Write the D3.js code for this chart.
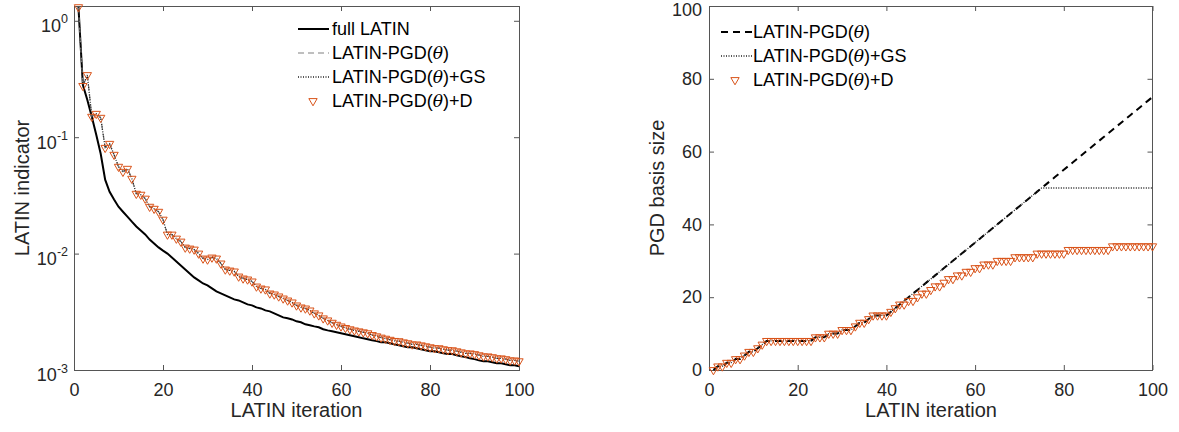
<!DOCTYPE html>
<html><head><meta charset="utf-8">
<script src="https://cdn.jsdelivr.net/npm/d3@7"></script>
<style>
body{margin:0;background:#fff;}
svg{display:block;font-family:"Liberation Sans",Arial,Helvetica,sans-serif;}
</style></head>
<body><svg id="c" width="1179" height="432"></svg>
<script>
// ---------- data ----------
const iterations = d3.range(1, 101);
const fullLatin = [1.31,0.281,0.209,0.150,0.105,0.072,0.0432,0.0340,0.0291,0.0253,
0.0229,0.0208,0.0188,0.0171,0.0158,0.0146,0.0132,0.0122,0.0113,0.0106,
0.0100,0.00926,0.00855,0.00791,0.00731,0.00675,0.00624,0.00588,0.00554,0.00533,
0.00502,0.00473,0.00455,0.00437,0.00420,0.00404,0.00396,0.00381,0.00366,0.00359,
0.00345,0.00338,0.00325,0.00319,0.00307,0.00295,0.00283,0.00278,0.00272,0.00262,
0.00257,0.00247,0.00242,0.00237,0.00233,0.00224,0.00219,0.00215,0.00211,0.00207,
0.00203,0.00199,0.00195,0.00191,0.00187,0.00184,0.00180,0.00177,0.00173,0.00173,
0.00170,0.00166,0.00163,0.00160,0.00157,0.00157,0.00154,0.00151,0.00148,0.00145,
0.00145,0.00142,0.00139,0.00137,0.00137,0.00134,0.00131,0.00129,0.00126,0.00124,
0.00121,0.00119,0.00119,0.001166,0.001143,0.001143,0.001121,0.001099,0.001099,0.001078];
const pgdIndicator = [1.31,0.276,0.342,0.150,0.159,0.147,0.0811,0.0878,0.0707,0.0558,
0.0505,0.0536,0.0440,0.0327,0.0321,0.0297,0.0253,0.0243,0.0229,0.0196,
0.01458,0.01458,0.01347,0.01270,0.01128,0.01106,0.01084,0.01002,0.00908,0.00890,
0.00926,0.00908,0.00823,0.00731,0.00716,0.00703,0.00636,0.00612,0.00600,0.00577,
0.00522,0.00502,0.00493,0.00455,0.00446,0.00429,0.00412,0.00396,0.00381,0.00359,
0.00345,0.00338,0.00325,0.00307,0.00295,0.00278,0.00267,0.00255,0.00245,0.00237,
0.00230,0.00224,0.00219,0.00215,0.00211,0.00207,0.00200,0.00195,0.00190,0.00186,
0.00182,0.00178,0.00177,0.00173,0.00170,0.00166,0.00166,0.00163,0.00160,0.00157,
0.00154,0.00154,0.00151,0.00148,0.00148,0.00145,0.00142,0.00139,0.00139,0.00137,
0.00134,0.00131,0.00131,0.00129,0.00126,0.00126,0.00124,0.00121,0.00121,0.00119];
const gsIndicator = [1.31,0.276,0.342,0.150,0.159,0.147,0.0811,0.0878,0.0707,0.0558,
0.0505,0.0536,0.0440,0.0327,0.0321,0.0297,0.0253,0.0243,0.0229,0.0196,
0.01458,0.01458,0.01347,0.01270,0.01128,0.01106,0.01084,0.01002,0.00908,0.00890,
0.00926,0.00908,0.00823,0.00731,0.00716,0.00703,0.00636,0.00612,0.00600,0.00577,
0.00522,0.00502,0.00493,0.00455,0.00446,0.00429,0.00412,0.00396,0.00381,0.00359,
0.00345,0.00338,0.00325,0.00307,0.00295,0.00278,0.00267,0.00255,0.00245,0.00237,
0.00230,0.00224,0.00219,0.00215,0.00211,0.00207,0.00200,0.00195,0.00190,0.00186,
0.00182,0.00178,0.00177,0.00173,0.00170,0.00166,0.00166,0.00163,0.00160,0.00157,
0.00154,0.00154,0.00151,0.00148,0.00148,0.00145,0.00142,0.00139,0.00139,0.00137,
0.00134,0.00131,0.00131,0.00129,0.00126,0.00126,0.00124,0.00121,0.00121,0.00119];
const dIndicator = [1.31,0.276,0.342,0.150,0.159,0.147,0.0811,0.0878,0.0707,0.0558,
0.0505,0.0536,0.0440,0.0327,0.0321,0.0297,0.0253,0.0243,0.0229,0.0196,
0.01458,0.01458,0.01347,0.01270,0.01128,0.01106,0.01084,0.01002,0.00908,0.00890,
0.00926,0.00908,0.00823,0.00731,0.00716,0.00703,0.00636,0.00612,0.00600,0.00577,
0.00522,0.00502,0.00493,0.00455,0.00446,0.00429,0.00412,0.00396,0.00381,0.00359,
0.00345,0.00338,0.00325,0.00307,0.00295,0.00278,0.00267,0.00255,0.00245,0.00237,
0.00230,0.00224,0.00219,0.00215,0.00211,0.00207,0.00200,0.00195,0.00190,0.00186,
0.00182,0.00178,0.00177,0.00173,0.00170,0.00166,0.00166,0.00163,0.00160,0.00157,
0.00154,0.00154,0.00151,0.00148,0.00148,0.00145,0.00142,0.00139,0.00139,0.00137,
0.00134,0.00131,0.00131,0.00129,0.00126,0.00126,0.00124,0.00121,0.00121,0.00119];

const basisPGD = [0,1,1,2,2,3,3,4,5,5,6,7,8,8,8,8,8,8,8,8,
8,8,8,9,9,9,10,10,10,11,11,11,12,13,13,14,15,15,15,15,
16,17,18,19,20,21,22,23,24,25,26,27,28,29,30,31,32,33,34,35,
36,37,38,39,40,41,42,43,44,45,46,47,48,49,50,51,52,53,54,55,
56,57,58,59,60,61,62,63,64,65,66,67,68,69,70,71,72,73,74,75];
const basisGS = [0,1,1,2,2,3,3,4,5,5,6,7,8,8,8,8,8,8,8,8,
8,8,8,9,9,9,10,10,10,11,11,11,12,13,13,14,15,15,15,15,
16,17,18,19,20,21,22,23,24,25,26,27,28,29,30,31,32,33,34,35,
36,37,38,39,40,41,42,43,44,45,46,47,48,49,50,50,50,50,50,50,
50,50,50,50,50,50,50,50,50,50,50,50,50,50,50,50,50,50,50,50];
const basisD = [0,1,1,2,2,3,3,4,5,5,6,7,8,8,8,8,8,8,8,8,
8,8,8,9,9,9,10,10,10,11,11,11,12,13,13,14,15,15,15,15,
16,17,18,18,19,19,20,21,21,22,23,23,24,25,25,26,26,27,27,28,
28,29,29,29,30,30,30,30,31,31,31,31,31,32,32,32,32,32,32,32,
33,33,33,33,33,33,33,33,33,33,34,34,34,34,34,34,34,34,34,34];

const xTicks = [0,20,40,60,80,100];
const logTicks = [1e-3,1e-2,1e-1,1];
const logTickExps = ["-3","-2","-1","0"];
const basisTicks = [0,20,40,60,80,100];

// ---------- styles ----------
const orange = "#D95319";
const axisCol = "#262626";
const boxCol = "#555";

const svg = d3.select("#c");

function frame(g, x, y, yTicks, logLabels) {
  const [x0,x1] = x.range(), [y0,y1] = y.range();
  const ab = g.append("g").attr("transform",`translate(0,${y0})`)
    .call(d3.axisBottom(x).tickValues(xTicks).tickSizeInner(-5).tickSizeOuter(0).tickPadding(13));
  const at = g.append("g").attr("transform",`translate(0,${y1})`)
    .call(d3.axisTop(x).tickValues(xTicks).tickSizeInner(-5).tickSizeOuter(0).tickFormat(""));
  const al = g.append("g").attr("transform",`translate(${x0},0)`)
    .call(d3.axisLeft(y).tickValues(yTicks).tickSizeInner(-5).tickSizeOuter(0).tickPadding(logLabels?6:7)
      .tickFormat(logLabels ? (()=>"") : d3.format("d")));
  const ar = g.append("g").attr("transform",`translate(${x1},0)`)
    .call(d3.axisRight(y).tickValues(yTicks).tickSizeInner(-5).tickSizeOuter(0).tickFormat(""));
  [ab,at,al,ar].forEach(a=>{
    a.select(".domain").remove();
    a.selectAll(".tick line").attr("stroke",boxCol).attr("stroke-width",1);
    a.selectAll("text").attr("fill",axisCol).attr("font-size",18);
    a.attr("font-family",null);
  });
  if (logLabels) {
    al.selectAll(".tick text").each(function(d){
      const t = d3.select(this);
      t.text(null).attr("dy","0.6em");
      t.append("tspan").text("10");
      t.append("tspan").attr("dy","-0.7em").attr("font-size",12.5).text(logLabels[logTicks.indexOf(d)]);
    });
  } else {
    al.selectAll(".tick text").filter(d=>d===100).attr("dy","0.5em");
  }
  g.append("rect").attr("x",x0).attr("y",y1).attr("width",x1-x0).attr("height",y0-y1)
    .attr("fill","none").attr("stroke",boxCol).attr("stroke-width",1).attr("shape-rendering","crispEdges");
}

function tri(sel) {
  return sel.attr("d", d3.symbol(d3.symbolTriangle, 30)())
    .attr("fill","none").attr("stroke",orange).attr("stroke-width",1);
}

function thetaText(t, before, after) {
  t.append("tspan").text(before);
  t.append("tspan").attr("font-family","'DejaVu Serif','Liberation Serif',serif").attr("font-style","italic").attr("font-size","0.95em").text("θ");
  t.append("tspan").text(after);
}

// ---------- left chart ----------
const xL = d3.scaleLinear().domain([0,100]).range([74,519]);
const yL = d3.scaleLog().domain([1e-3,1.34]).range([370,6]);
const gL = svg.append("g");
frame(gL, xL, yL, logTicks, logTickExps);

const lineL = vals => d3.line().x((d,i)=>xL(iterations[i])).y(d=>yL(d))(vals);
gL.append("path").attr("d",lineL(fullLatin)).attr("fill","none").attr("stroke","#000").attr("stroke-width",2);
gL.append("path").attr("d",lineL(pgdIndicator)).attr("fill","none").attr("stroke","#808080").attr("stroke-width",1.2).attr("stroke-dasharray","6,4");
gL.append("path").attr("d",lineL(gsIndicator)).attr("fill","none").attr("stroke","#222").attr("stroke-width",1.3).attr("stroke-dasharray","1,1.5");
gL.selectAll("path.mk").data(dIndicator).join("path").attr("class","mk")
  .attr("transform",(d,i)=>`translate(${xL(iterations[i])},${yL(d)}) rotate(180)`).call(tri);

gL.append("text").attr("x",296.5).attr("y",417).attr("text-anchor","middle").attr("font-size",20).attr("fill",axisCol).text("LATIN iteration");
gL.append("text").attr("transform","translate(29,188) rotate(-90)").attr("text-anchor","middle").attr("font-size",20).attr("fill",axisCol).text("LATIN indicator");

const legL = gL.append("g");
const lRows = [29,53,77,101];
legL.append("line").attr("x1",298).attr("x2",329).attr("y1",lRows[0]).attr("y2",lRows[0]).attr("stroke","#000").attr("stroke-width",2);
legL.append("line").attr("x1",298).attr("x2",329).attr("y1",lRows[1]).attr("y2",lRows[1]).attr("stroke","#808080").attr("stroke-width",1.2).attr("stroke-dasharray","6,4");
legL.append("line").attr("x1",298).attr("x2",329).attr("y1",lRows[2]).attr("y2",lRows[2]).attr("stroke","#222").attr("stroke-width",1.3).attr("stroke-dasharray","1,1.5");
legL.append("path").attr("transform",`translate(313,${lRows[3]}) rotate(180)`).call(tri);
const lt = (y)=>legL.append("text").attr("x",332).attr("y",y).attr("dy","0.35em").attr("font-size",18).attr("fill","#000");
lt(lRows[0]).text("full LATIN");
thetaText(lt(lRows[1]),"LATIN-PGD(",")");
thetaText(lt(lRows[2]),"LATIN-PGD(",")+GS");
thetaText(lt(lRows[3]),"LATIN-PGD(",")+D");

// ---------- right chart ----------
const xR = d3.scaleLinear().domain([0,100]).range([709,1152.5]);
const yR = d3.scaleLinear().domain([0,100]).range([370,6]);
const gR = svg.append("g");
frame(gR, xR, yR, basisTicks, null);

const lineR = vals => d3.line().x((d,i)=>xR(iterations[i])).y(d=>yR(d))(vals);
gR.append("path").attr("d",lineR(basisPGD)).attr("fill","none").attr("stroke","#000").attr("stroke-width",2).attr("stroke-dasharray","7,5");
gR.append("path").attr("d",lineR(basisGS)).attr("fill","none").attr("stroke","#222").attr("stroke-width",1.3).attr("stroke-dasharray","1,1.5");
gR.selectAll("path.mk").data(basisD).join("path").attr("class","mk")
  .attr("transform",(d,i)=>`translate(${xR(iterations[i])},${yR(d)}) rotate(180)`).call(tri);

gR.append("text").attr("x",931).attr("y",417).attr("text-anchor","middle").attr("font-size",20).attr("fill",axisCol).text("LATIN iteration");
gR.append("text").attr("transform","translate(664,188) rotate(-90)").attr("text-anchor","middle").attr("font-size",20).attr("fill",axisCol).text("PGD basis size");

const legR = gR.append("g");
const rRows = [32,56,80];
legR.append("line").attr("x1",721).attr("x2",752).attr("y1",rRows[0]).attr("y2",rRows[0]).attr("stroke","#000").attr("stroke-width",2).attr("stroke-dasharray","7,5");
legR.append("line").attr("x1",721).attr("x2",752).attr("y1",rRows[1]).attr("y2",rRows[1]).attr("stroke","#222").attr("stroke-width",1.3).attr("stroke-dasharray","1,1.5");
legR.append("path").attr("transform",`translate(735,${rRows[2]}) rotate(180)`).call(tri);
const rt = (y)=>legR.append("text").attr("x",753).attr("y",y).attr("dy","0.35em").attr("font-size",18).attr("fill","#000");
thetaText(rt(rRows[0]),"LATIN-PGD(",")");
thetaText(rt(rRows[1]),"LATIN-PGD(",")+GS");
thetaText(rt(rRows[2]),"LATIN-PGD(",")+D");
</script></body></html>
